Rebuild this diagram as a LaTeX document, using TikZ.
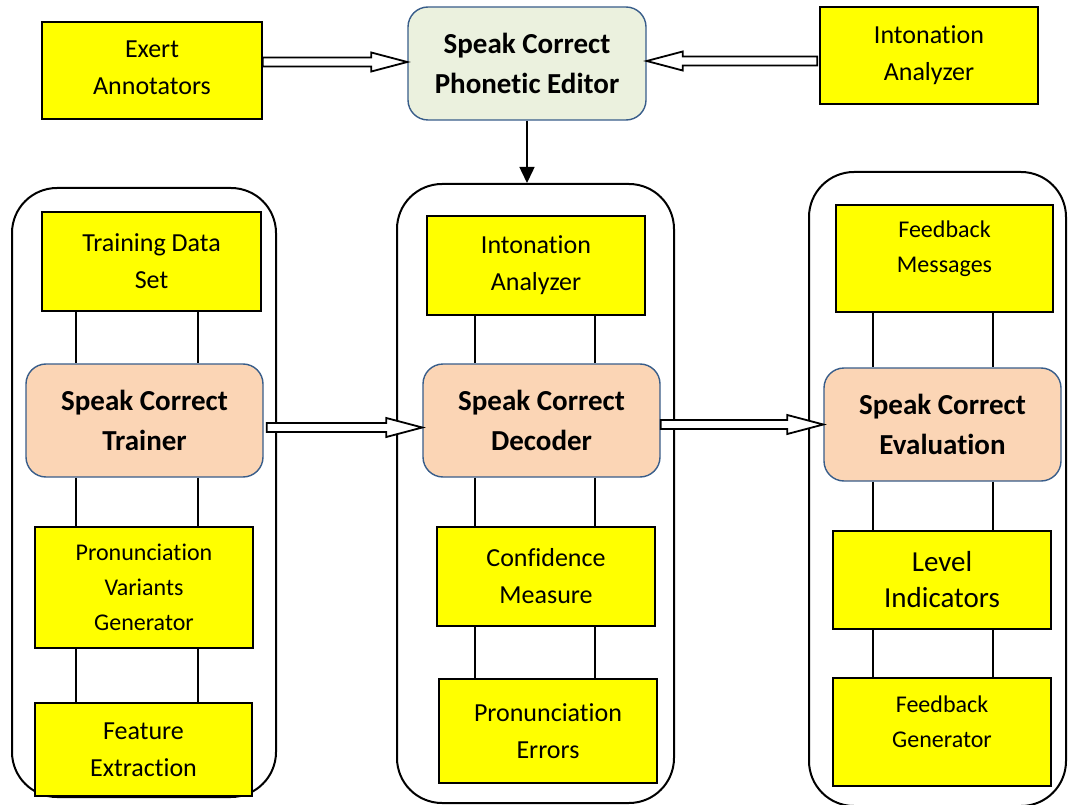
\documentclass[tikz,border=0pt]{standalone}
\usepackage{fontspec}
\setmainfont{Carlito}[Ligatures=NoCommon]
\usepackage{xcolor}
\usepackage{tikz}
\usetikzlibrary{arrows.meta,calc,positioning}

\definecolor{boxyellow}{HTML}{FFFF00}
\definecolor{peach}{HTML}{FBD5B5}
\definecolor{palegreen}{HTML}{EBF1DE}
\definecolor{outlineblue}{HTML}{385D8A}

\tikzset{
  box/.style={draw=black, line width=1.6pt, fill=boxyellow, align=center, inner sep=0pt,
    font=\fontsize{26}{37}\selectfont},
  smalltxt/.style={font=\fontsize{24}{35}\selectfont, align=center},
  core/.style={draw=outlineblue, line width=1.4pt, rounded corners=20pt, fill=peach,
    align=center, inner sep=0pt, font=\bfseries\fontsize{29}{40}\selectfont},
  frame/.style={draw=black, line width=2pt, rounded corners=45pt, inner sep=0pt},
  link/.style={line width=1.5pt},
  hollow/.style={draw=black, line width=1.8pt, fill=white, line join=miter}
}

% block arrow from #1 to #2
\newcommand{\hollowarrow}[2]{%
  \coordinate (hb) at ($(#2)!36pt!(#1)$);
  \draw[hollow] ($(#1)!4.5pt!90:(#2)$) -- ($(hb)!4.5pt!-90:(#1)$) -- ($(hb)!9.5pt!-90:(#1)$)
    -- (#2) -- ($(hb)!9.5pt!90:(#1)$) -- ($(hb)!4.5pt!90:(#1)$) -- ($(#1)!4.5pt!-90:(#2)$) -- cycle;}

\begin{document}
\begin{tikzpicture}[x=1pt,y=-1pt]
  \useasboundingbox[fill=white] (0,0) rectangle (1068,805);
  % Columns
  \node[frame, minimum width=264pt, minimum height=609pt] (leftcol) at (144,492.5) {};
  \node[frame, minimum width=277pt, minimum height=619pt] (midcol) at (535.5,493.5) {};
  \node[frame, minimum width=257pt, minimum height=634pt] (rightcol) at (937.5,489) {};
  % Top row
  \node[box, minimum width=220pt, minimum height=97pt,
    label={[font=\fontsize{26}{37}\selectfont, align=center, yshift=3pt]center:Exert\\Annotators}]
    (exert) at (152,70.5) {};
  \node[core, fill=palegreen, minimum width=238pt, minimum height=113pt] (editor) at (527,63.5)
    {Speak Correct\\Phonetic Editor};
  \node[box, minimum width=218pt, minimum height=97pt] (intotop) at (929,55.5) {Intonation\\Analyzer};
  % Trainer column
  \node[box, minimum width=219pt, minimum height=99pt] (trainset) at (151.5,261.5) {Training Data\\Set};
  \node[core, minimum width=237pt, minimum height=113pt] (trainer) at (144.5,420.5) {Speak Correct\\Trainer};
  \node[box, smalltxt, minimum width=218pt, minimum height=121pt] (variants) at (144,587.5)
    {Pronunciation\\Variants\\Generator};
  \node[box, minimum width=217pt, minimum height=93pt] (feature) at (143.5,749.5) {Feature\\Extraction};
  % Decoder column
  \node[box, minimum width=218pt, minimum height=99pt] (intomid) at (536,265.5) {Intonation\\Analyzer};
  \node[core, minimum width=237pt, minimum height=113pt] (decoder) at (541.5,420.5) {Speak Correct\\Decoder};
  \node[box, minimum width=218pt, minimum height=99pt] (confid) at (546,576.5) {Confidence\\Measure};
  \node[box, minimum width=218pt, minimum height=104pt] (errors) at (548,731) {Pronunciation\\Errors};
  % Evaluation column
  \node[box, minimum width=217pt, minimum height=107pt,
    label={[smalltxt, yshift=10pt]center:Feedback\\Messages}] (fbmsg) at (944.5,258.5) {};
  \node[core, minimum width=237pt, minimum height=113pt] (eval) at (942.5,424.5) {Speak Correct\\Evaluation};
  \node[box, font=\fontsize{29}{36}\selectfont, minimum width=218pt, minimum height=98pt] (level)
    at (942,580) {Level\\Indicators};
  \node[box, minimum width=218pt, minimum height=108pt,
    label={[smalltxt, yshift=10pt]center:Feedback\\Generator}] (fbgen) at (942,732) {};

  % Links inside the columns
  \coordinate (lx1) at (76,0);  \coordinate (lx2) at (198,0);
  \coordinate (mx1) at (475,0); \coordinate (mx2) at (595,0);
  \coordinate (rx1) at (873,0); \coordinate (rx2) at (993,0);
  \foreach \a/\b/\p/\q in {trainset/trainer/lx1/lx2, trainer/variants/lx1/lx2, variants/feature/lx1/lx2,
      intomid/decoder/mx1/mx2, decoder/confid/mx1/mx2, confid/errors/mx1/mx2,
      fbmsg/eval/rx1/rx2, eval/level/rx1/rx2, level/fbgen/rx1/rx2} {
    \draw[link] (\a.south -| \p) -- (\b.north -| \p);
    \draw[link] (\a.south -| \q) -- (\b.north -| \q);
  }

  % Block arrows
  \coordinate (exout) at ([yshift=1.5pt]exert.east |- editor.west);
  \coordinate (edin) at ([yshift=1.5pt]editor.west);
  \hollowarrow{exout}{edin}
  \coordinate (itout) at ([xshift=-2pt,yshift=2.5pt]intotop.west |- editor.east);
  \coordinate (edin2) at ([yshift=2.5pt]editor.east);
  \hollowarrow{itout}{edin2}
  \coordinate (trout) at ([xshift=3pt,yshift=-7pt]trainer.east);
  \coordinate (dcin) at ([yshift=-7pt]decoder.west);
  \hollowarrow{trout}{dcin}
  \coordinate (dcout) at ([yshift=-4pt]decoder.east);
  \coordinate (evin) at (eval.west |- dcout);
  \hollowarrow{dcout}{evin}
  % Editor feeds the decoder
  \draw[link, -{Triangle[width=15pt,length=16pt]}] (editor.south) -- (editor.south |- midcol.north);
\end{tikzpicture}
\end{document}
